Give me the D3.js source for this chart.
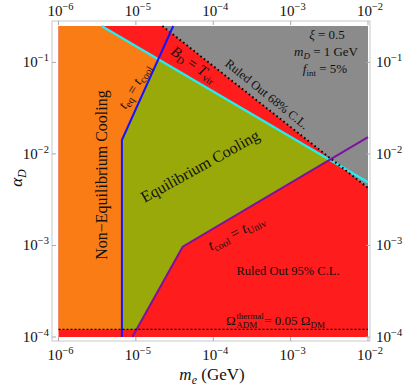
<!DOCTYPE html>
<html>
<head>
<meta charset="utf-8">
<script src="https://cdn.jsdelivr.net/npm/d3@7"></script>
<style>
  body { margin: 0; background: #fff; }
  text { font-family: "Liberation Serif", "DejaVu Serif", serif; fill: #111; }
  .it { font-style: italic; }
</style>
</head>
<body>
<div id="chart-area"></div>
<script>
// axis ranges and ticks
var xDomain = [1e-6, 1e-2];
var yDomain = [1e-4, 0.25];
var xTicks = [1e-6, 1e-5, 1e-4, 1e-3, 1e-2];
var yTicks = [1e-4, 1e-3, 1e-2, 1e-1];
var xExps = ["−6", "−5", "−4", "−3", "−2"];
var yExps = ["−4", "−3", "−2", "−1"];

// boundary curves [m_e, alpha_D]
var bvirLine = [[3.6e-6, 0.25], [1e-2, 4.9e-3]];             // B_D = T_vir (cyan)
var cl68Line = [[2.2e-5, 0.25], [1e-2, 4.25e-3]];            // ruled out 68% (dotted)
var teqLine = [[6.6e-6, 1e-4], [6.6e-6, 0.0142], [3.04e-5, 0.25]];   // t_eq = t_cool (blue)
var tunivLine = [[9e-6, 1e-4], [4.03e-5, 9.7e-4], [1e-2, 0.0153]];  // t_cool = t_Univ (purple)
var omegaLevel = 1.21e-4;                                    // Omega_ADM^thermal = 0.05 Omega_DM

var width = 407, height = 389;
var frame = { left: 52, right: 370, top: 21, bottom: 341 };

var svg = d3.select("#chart-area").append("svg")
    .attr("width", width)
    .attr("height", height);

var x = d3.scaleLog().domain(xDomain).range([58.5, 368]);
var y = d3.scaleLog().domain(yDomain).range([337, 26]);

var line = d3.line()
    .x(function(d) { return x(d[0]); })
    .y(function(d) { return y(d[1]); });

var x0 = xDomain[0], x1 = xDomain[1], y0 = yDomain[0], y1 = yDomain[1];

// clip regions
var defs = svg.append("defs");
// below the B_D = T_vir line
defs.append("clipPath").attr("id", "belowCyan").append("path")
    .attr("d", line([[x0, y1]].concat(bvirLine, [[x1, y0], [x0, y0]])) + "Z");
// above the Omega line
defs.append("clipPath").attr("id", "aboveOmega").append("rect")
    .attr("x", x(x0)).attr("y", y(y1))
    .attr("width", x(x1) - x(x0))
    .attr("height", y(omegaLevel) - y(y1));

// red background (ruled out 95%)
svg.append("rect")
    .attr("x", x(x0)).attr("y", y(y1))
    .attr("width", x(x1) - x(x0))
    .attr("height", y(y0) - y(y1))
    .attr("fill", "#ff1c1c");

var gA = svg.append("g").attr("clip-path", "url(#belowCyan)")
  .append("g").attr("clip-path", "url(#aboveOmega)");

// equilibrium cooling: above purple line
gA.append("path")
    .attr("d", line(tunivLine.concat([[x1, y1], [x0, y1], [x0, y0]])) + "Z")
    .attr("fill", "#9aa90a");

// non-equilibrium cooling: left of blue line
gA.append("path")
    .attr("d", line(teqLine.concat([[x0, y1], [x0, y0]])) + "Z")
    .attr("fill", "#f97c14");

// grey: ruled out 68%
svg.append("path")
    .attr("d", line(cl68Line.concat([[x1, y1]])) + "Z")
    .attr("fill", "#8b8b8b");

// boundary lines
svg.append("path").attr("d", line(bvirLine))
    .attr("fill", "none").attr("stroke", "#22eef2").attr("stroke-width", 2.4);
svg.append("path").attr("d", line(cl68Line))
    .attr("fill", "none").attr("stroke", "#000").attr("stroke-width", 2)
    .attr("stroke-dasharray", "1.6,2.8");
svg.append("path").attr("d", line(tunivLine))
    .attr("fill", "none").attr("stroke", "#7c12a0").attr("stroke-width", 2);
svg.append("path").attr("d", line(teqLine))
    .attr("fill", "none").attr("stroke", "#1414ff").attr("stroke-width", 2);
svg.append("line")
    .attr("x1", x(x0)).attr("x2", x(x1))
    .attr("y1", y(omegaLevel)).attr("y2", y(omegaLevel))
    .attr("stroke", "#000").attr("stroke-width", 1.1)
    .attr("stroke-dasharray", "2,2");

// frame
svg.append("rect")
    .attr("x", frame.left).attr("y", frame.top)
    .attr("width", frame.right - frame.left)
    .attr("height", frame.bottom - frame.top)
    .attr("fill", "none").attr("stroke", "#c8c8c8").attr("stroke-width", 1);

// ticks on all four sides
xTicks.forEach(function(t, i) {
    svg.append("line").attr("x1", x(t)).attr("x2", x(t))
        .attr("y1", frame.bottom).attr("y2", frame.bottom - 4)
        .attr("stroke", "#aaa");
    svg.append("line").attr("x1", x(t)).attr("x2", x(t))
        .attr("y1", frame.top).attr("y2", frame.top + 4)
        .attr("stroke", "#aaa");
    [16, 360].forEach(function(by) {
        var tx = svg.append("text")
            .attr("x", x(t) + 2).attr("y", by)
            .attr("text-anchor", "middle")
            .style("font-size", "15px");
        tx.append("tspan").text("10");
        tx.append("tspan").attr("dy", -6).style("font-size", "10.5px").text(xExps[i]);
    });
});
yTicks.forEach(function(t, i) {
    svg.append("line").attr("y1", y(t)).attr("y2", y(t))
        .attr("x1", frame.left).attr("x2", frame.left + 4)
        .attr("stroke", "#aaa");
    svg.append("line").attr("y1", y(t)).attr("y2", y(t))
        .attr("x1", frame.right).attr("x2", frame.right - 4)
        .attr("stroke", "#aaa");
    var tl = svg.append("text")
        .attr("x", 49).attr("y", y(t) + 5)
        .attr("text-anchor", "end")
        .style("font-size", "15px");
    tl.append("tspan").text("10");
    tl.append("tspan").attr("dy", -6).style("font-size", "10.5px").text(yExps[i]);
    var tr = svg.append("text")
        .attr("x", 376).attr("y", y(t) + 5)
        .style("font-size", "15px");
    tr.append("tspan").text("10");
    tr.append("tspan").attr("dy", -6).style("font-size", "10.5px").text(yExps[i]);
});

// axis titles
var xt = svg.append("text")
    .attr("x", 212).attr("y", 380)
    .attr("text-anchor", "middle")
    .style("font-size", "17px");
xt.append("tspan").attr("class", "it").text("m");
xt.append("tspan").attr("dy", 4).style("font-size", "12px").attr("class", "it").text("e");
xt.append("tspan").attr("dy", -4).text(" (GeV)");

var yt = svg.append("text")
    .attr("transform", "translate(22,178) rotate(-90)")
    .attr("text-anchor", "middle")
    .style("font-size", "17px");
yt.append("tspan").attr("class", "it").text("α");
yt.append("tspan").attr("dy", 4).style("font-size", "12px").attr("class", "it").text("D");

// helper for rotated labels
function label(cx, cy, angle, size) {
    return svg.append("text")
        .attr("transform", "translate(" + cx + "," + cy + ") rotate(" + angle + ")")
        .attr("text-anchor", "middle")
        .attr("dy", "0.35em")
        .style("font-size", size + "px");
}

label(101, 175, -90, 16).text("Non−Equilibrium Cooling");
label(200, 166, -29, 16).text("Equilibrium Cooling");

var teq = label(134, 86, -59, 14);
teq.append("tspan").attr("class", "it").text("t");
teq.append("tspan").attr("dy", 3).style("font-size", "10px").text("eq");
teq.append("tspan").attr("dy", -3).text(" = ");
teq.append("tspan").attr("class", "it").text("t");
teq.append("tspan").attr("dy", 3).style("font-size", "10px").text("cool");

var bd = label(194, 64, 35, 15);
bd.append("tspan").attr("class", "it").text("B");
bd.append("tspan").attr("dy", 3).style("font-size", "10px").text("D");
bd.append("tspan").attr("dy", -3).text(" = ");
bd.append("tspan").attr("class", "it").text("T");
bd.append("tspan").attr("dy", 3).style("font-size", "10px").text("vir");

label(267, 94, 39, 12.5).text("Ruled Out 68% C.L.");

var tu = label(236, 232, -27, 15);
tu.append("tspan").attr("class", "it").text("t");
tu.append("tspan").attr("dy", 3).style("font-size", "10px").text("cool");
tu.append("tspan").attr("dy", -3).text(" = ");
tu.append("tspan").attr("class", "it").text("t");
tu.append("tspan").attr("dy", 3).style("font-size", "10px").text("Univ");

svg.append("text").attr("x", 288).attr("y", 275)
    .attr("text-anchor", "middle").style("font-size", "12.5px")
    .text("Ruled Out 95% C.L.");

// parameter box
var p1 = svg.append("text").attr("x", 327).attr("y", 39)
    .attr("text-anchor", "middle").style("font-size", "13px");
p1.append("tspan").attr("class", "it").text("ξ");
p1.append("tspan").text(" = 0.5");
var p2 = svg.append("text").attr("x", 326).attr("y", 56)
    .attr("text-anchor", "middle").style("font-size", "13px");
p2.append("tspan").attr("class", "it").text("m");
p2.append("tspan").attr("dy", 3).style("font-size", "9px").attr("class", "it").text("D");
p2.append("tspan").attr("dy", -3).text(" = 1 GeV");
var p3 = svg.append("text").attr("x", 325).attr("y", 73)
    .attr("text-anchor", "middle").style("font-size", "13px");
p3.append("tspan").attr("class", "it").text("f");
p3.append("tspan").attr("dy", 3).style("font-size", "9px").text("int");
p3.append("tspan").attr("dy", -3).text(" = 5%");

// Omega label: stacked super/subscript, measured so nothing overlaps
var om = svg.append("g");
var omX = 226, omY = 325;
var omA = om.append("text").attr("x", omX).attr("y", omY)
    .style("font-size", "13px").text("Ω");
var wA = omA.node().getComputedTextLength();
var sup = om.append("text").attr("x", omX + wA + 0.5).attr("y", omY - 6)
    .style("font-size", "9px").text("thermal");
var sub = om.append("text").attr("x", omX + wA + 0.5).attr("y", omY + 3)
    .style("font-size", "9px").text("ADM");
var wS = Math.max(sup.node().getComputedTextLength(), sub.node().getComputedTextLength());
var rest = om.append("text").attr("x", omX + wA + wS + 1).attr("y", omY)
    .style("font-size", "13px");
rest.append("tspan").text(" = 0.05 Ω");
rest.append("tspan").attr("dy", 3).style("font-size", "9px").text("DM");
</script>
</body>
</html>
